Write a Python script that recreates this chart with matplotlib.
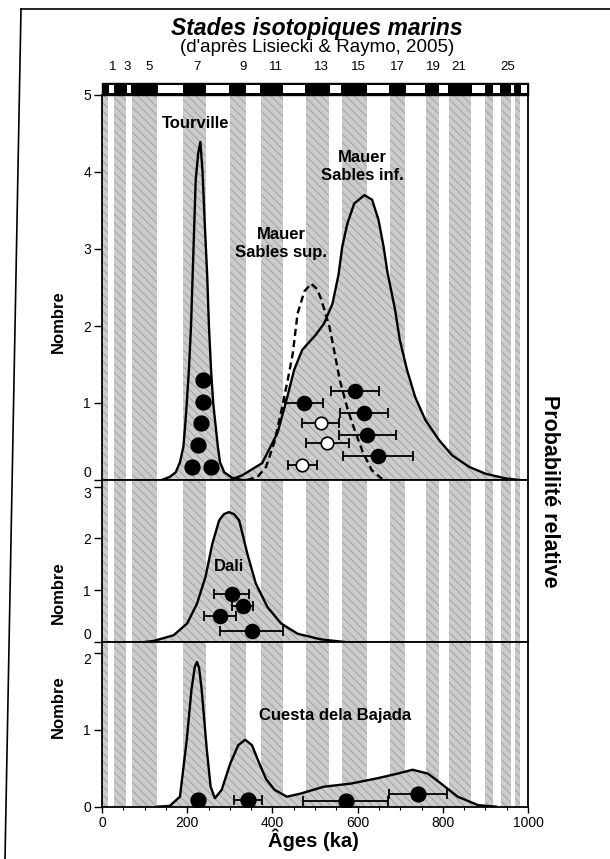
import matplotlib.pyplot as plt
import matplotlib.transforms as mtransforms
from matplotlib.lines import Line2D
from matplotlib.patches import Rectangle

plt.rcParams['font.family'] = ['Liberation Sans', 'DejaVu Sans']
plt.rcParams['hatch.linewidth'] = 0.6

# marine isotope stage boundaries (ka), Lisiecki & Raymo 2005
mis_bounds = [0, 14, 29, 57, 71, 130, 191, 243, 300, 337, 374, 424, 478, 533, 563,
              621, 676, 712, 761, 790, 814, 866, 900, 917, 936, 959, 970, 982, 1000]
mis_labels = ['1', '3', '5', '7', '9', '11', '13', '15', '17', '19', '21', '25']
mis_label_x = [24, 60, 110, 222, 330, 408, 515, 603, 694, 777, 838, 952]

# Tourville
tour_age = [140, 159, 173, 183, 191, 195, 199, 204, 209, 213, 220, 226, 231, 236, 241,
            247, 251, 256, 261, 267, 272, 277, 287, 305, 330]
tour_dens = [0, 0.04, 0.10, 0.23, 0.43, 0.69, 1.0, 1.43, 2.0, 2.7, 3.9, 4.25, 4.39, 4.0, 3.35,
             2.65, 2.0, 1.43, 1.0, 0.69, 0.43, 0.23, 0.10, 0.03, 0]
tour_pts_x = [237, 237, 232, 225, 211, 256]
tour_pts_y = [1.30, 1.01, 0.74, 0.45, 0.17, 0.17]

# Mauer, sables inferieurs (solid) and superieurs (dashed)
minf_age = [300, 329, 376, 412, 435, 451, 470, 501, 521, 541, 555, 564, 576, 592, 616, 634,
            649, 661, 670, 688, 699, 716, 735, 759, 791, 822, 862, 901, 948, 980]
minf_dens = [0, 0.06, 0.22, 0.61, 1.08, 1.43, 1.69, 1.88, 2.03, 2.29, 2.66, 3.03, 3.33, 3.59,
             3.70, 3.64, 3.38, 3.03, 2.70, 2.21, 1.82, 1.43, 1.08, 0.78, 0.52, 0.32, 0.17,
             0.08, 0.02, 0]
msup_age = [340, 365, 385, 404, 420, 436, 448, 459, 475, 491, 505, 515, 534, 546, 558, 577,
            593, 613, 633, 656, 670]
msup_dens = [0, 0.04, 0.17, 0.48, 0.87, 1.30, 1.65, 2.16, 2.45, 2.55, 2.48, 2.34, 1.99, 1.65,
             1.30, 0.91, 0.65, 0.35, 0.13, 0.02, 0]
minf_pts_x = [474, 594, 615, 623, 648]
minf_pts_y = [1.00, 1.15, 0.87, 0.59, 0.31]
minf_err = [45, 57, 57, 66, 82]
msup_pts_x = [513, 529, 470]
msup_pts_y = [0.74, 0.48, 0.19]
msup_err = [43, 50, 34]

# Dali
dali_age = [100, 121, 168, 200, 223, 243, 259, 275, 286, 298, 310, 322, 341, 361, 388, 420,
            459, 514, 570]
dali_dens = [0, 0.02, 0.13, 0.36, 0.74, 1.26, 1.90, 2.35, 2.47, 2.51, 2.47, 2.35, 1.71, 1.13,
             0.68, 0.36, 0.16, 0.05, 0]
dali_pts_x = [304, 330, 277, 351]
dali_pts_y = [0.92, 0.69, 0.51, 0.21]
dali_err = [42, 24, 37, 73]

# Cuesta de la Bajada
cb_age = [130, 159, 183, 199, 210, 218, 223, 228, 234, 246, 255, 265, 281, 301, 320, 336,
          352, 368, 385, 405, 434, 466, 521, 584, 647, 694, 729, 765, 796, 835, 883, 925]
cb_dens = [0, 0.01, 0.13, 0.87, 1.52, 1.82, 1.88, 1.80, 1.52, 0.74, 0.26, 0.11, 0.22, 0.56,
           0.80, 0.87, 0.80, 0.58, 0.36, 0.22, 0.13, 0.17, 0.26, 0.30, 0.37, 0.43, 0.48, 0.43,
           0.30, 0.13, 0.02, 0]
cb_pts_x = [226, 342, 572, 742]
cb_pts_y = [0.09, 0.09, 0.08, 0.16]
cb_err = [0, 33, 100, 68]

STRIPE = '#cbcbcb'
FILL = '#cdcdcd'
HATCH_C = '#9c9c9c'
W, H = 610, 859

fig = plt.figure(figsize=(6.1, 8.59), dpi=100)
left, width = 102 / W, 426 / W
ax1 = fig.add_axes([left, 1 - 480 / H, width, 385 / H])
ax2 = fig.add_axes([left, 1 - 642 / H, width, 162 / H], sharex=ax1)
ax3 = fig.add_axes([left, 1 - 806.7 / H, width, 164.7 / H], sharex=ax1)

for ax in (ax1, ax2, ax3):
    # interglacial (odd) stages as grey stipple stripes
    for k in range(0, len(mis_bounds) - 1, 2):
        ax.axvspan(mis_bounds[k], mis_bounds[k + 1], facecolor=STRIPE, edgecolor=HATCH_C,
                   hatch='\\\\\\\\', lw=0, zorder=0)
    ax.tick_params(axis='y', direction='out', length=6, width=1, pad=2, labelsize=10)
    for s in ax.spines.values():
        s.set_linewidth(1.3)
    ax.set_ylabel('Nombre', fontsize=12, fontweight='bold')

ax1.set_xlim(0, 1000)
ax1.set_ylim(0, 5)
ax2.set_ylim(0, 3.13)
ax3.set_ylim(0, 2.14)
ax1.set_yticks([0, 1, 2, 3, 4, 5])
ax2.set_yticks([0, 1, 2, 3])
ax3.set_yticks([0, 1, 2])
ax1.yaxis.set_label_coords(-0.085, (480 - 322) / 385)
ax2.yaxis.set_label_coords(-0.085, (641.7 - 592) / 162)
ax3.yaxis.set_label_coords(-0.085, (806.7 - 707) / 164.7)
for ax in (ax1, ax2):
    ax.tick_params(axis='x', bottom=False, labelbottom=False)
ax3.set_xticks([0, 200, 400, 600, 800, 1000])
ax3.set_xticks(range(0, 1001, 50), minor=True)
ax3.tick_params(axis='x', which='major', direction='out', length=4, width=1, pad=2.5, labelsize=10)
ax3.tick_params(axis='x', which='minor', direction='out', length=2.5, width=0.8)

# stacked "0" over the next panel's top label, as in the original
fig.canvas.draw()
for ax in (ax1, ax2):
    ax.get_yticklabels()[0].set_va('bottom')
for ax in (ax2, ax3):
    ax.get_yticklabels()[-1].set_va('top')


def density(ax, x, y, dashed=False):
    if dashed:
        ax.plot(x, y, color='black', lw=1.7, ls=(0, (3, 1.8)), zorder=3)
    else:
        ax.fill_between(x, y, 0, facecolor=FILL, edgecolor=HATCH_C, hatch='\\\\\\\\',
                        lw=0, zorder=1)
        ax.plot(x, y, color='black', lw=1.7, zorder=2, solid_joinstyle='round')


def dates(ax, x, y, err=None, filled=True, ms=10):
    if err is not None:
        ax.errorbar(x, y, xerr=err, fmt='none', ecolor='black', elinewidth=1.3,
                    capsize=3.5, capthick=1.3, zorder=4)
    ax.plot(x, y, 'o', ms=ms, mfc='black' if filled else 'white', mec='black',
            mew=1.2, zorder=5, ls='none')


density(ax1, tour_age, tour_dens)
density(ax1, minf_age, minf_dens)
density(ax1, msup_age, msup_dens, dashed=True)
dates(ax1, tour_pts_x, tour_pts_y, ms=10.5)
dates(ax1, minf_pts_x, minf_pts_y, minf_err)
dates(ax1, msup_pts_x, msup_pts_y, msup_err, filled=False, ms=9)

density(ax2, dali_age, dali_dens)
dates(ax2, dali_pts_x, dali_pts_y, dali_err)

density(ax3, cb_age, cb_dens)
dates(ax3, cb_pts_x, cb_pts_y, cb_err, ms=10.5)

lab = dict(fontsize=12, fontweight='bold', ha='center', va='center', zorder=6)
ax1.text(220, 4.63, 'Tourville', **lab)
ax1.text(612, 4.07, 'Mauer\nSables inf.', **lab)
ax1.text(420, 3.07, 'Mauer\nSables sup.', **lab)
ax2.text(298, 1.46, 'Dali', **lab)
ax3.text(548, 1.19, 'Cuesta dela Bajada', **lab)

# isotope stage bar above the top panel
band_lo, band_hi = 5.0, 5.0 + 12 / 77
ax1.add_patch(Rectangle((0, band_lo), 1000, band_hi - band_lo, facecolor='black',
                        edgecolor='black', lw=1, clip_on=False, zorder=5))
for k in range(1, len(mis_bounds) - 1, 2):
    x0, x1 = mis_bounds[k] + 2, min(mis_bounds[k + 1], 1000) - 2
    ax1.add_patch(Rectangle((x0, band_lo + 2 / 77), x1 - x0, 8 / 77, facecolor='white',
                            edgecolor='none', clip_on=False, zorder=6))
trans = mtransforms.blended_transform_factory(ax1.transData, fig.transFigure)
for lbl, xp in zip(mis_labels, mis_label_x):
    ax1.text(xp, 1 - 67 / H, lbl, transform=trans, ha='center', va='center', fontsize=9.5)

fig.text(317 / W, 1 - 28 / H, 'Stades isotopiques marins', ha='center', va='center',
         fontsize=16.5, fontweight='bold', fontstyle='italic')
fig.text(317 / W, 1 - 47 / H, "(d'après Lisiecki & Raymo, 2005)", ha='center', va='center',
         fontsize=13.5)
fig.text(313 / W, 1 - 840 / H, 'Âges (ka)', ha='center', va='center', fontsize=14.5,
         fontweight='bold')
fig.text(550 / W, 1 - 491 / H, 'Probabilité relative', ha='center', va='center',
         rotation=-90, fontsize=15.5, fontweight='bold')

# page frame of the original figure
fig.add_artist(Line2D([21 / W, 1.0], [1 - 9 / H, 1 - 9 / H], color='black', lw=1.2,
                      transform=fig.transFigure))
fig.add_artist(Line2D([21 / W, 5 / W], [1 - 9 / H, 0.0], color='black', lw=1.2,
                      transform=fig.transFigure))

fig.savefig('out.png', dpi=100)
